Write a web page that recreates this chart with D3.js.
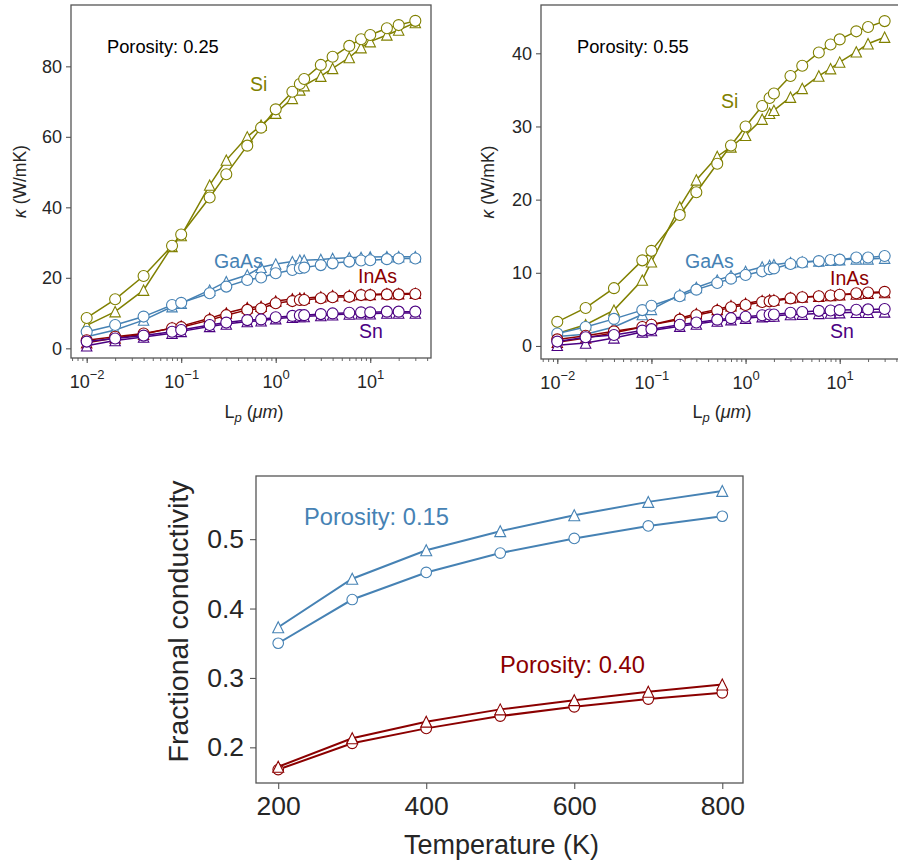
<!DOCTYPE html>
<html>
<head>
<meta charset="utf-8">
<script src="https://cdn.jsdelivr.net/npm/d3@7"></script>
<style>
  body { margin: 0; background: #fff; }
  svg { font-family: "Liberation Sans", Arial, sans-serif; }
</style>
</head>
<body>
<svg id="chart" width="898" height="863"></svg>
<script>
// ---- data ----
var Lp = [0.01, 0.02, 0.04, 0.08, 0.1, 0.2, 0.3, 0.5, 0.7, 1, 1.5, 1.8, 2, 3, 4, 6, 8, 10, 15, 20, 30];

// porosity 0.25
var si25_tri  = [6.5, 10.4, 16.5, 28.9, 32, 46.3, 53.4, 60, 63.3, 66.7, 70.9, 73.3, 74.5, 77.2, 79.4, 82.5, 85.3, 87, 88.9, 90.3, 92.4];
var si25_circ = [8.6, 13.9, 20.5, 29.1, 32.3, 42.8, 49.4, 57.5, 62.6, 67.8, 72.8, 75, 76.4, 80.4, 82.7, 85.8, 87.7, 88.9, 90.8, 91.7, 92.9];
var gaas25_tri  = [3.3, 5.2, 8, 11.8, 12.8, 16.5, 18.9, 20.8, 23, 23.9, 24.6, 25, 25, 25.2, 25.5, 25.7, 25.8, 25.9, 26, 26, 26];
var gaas25_circ = [4.7, 6.6, 9, 12.3, 12.9, 15.6, 17.5, 19.4, 20.1, 21.3, 22.2, 22.7, 22.9, 23.6, 24.1, 24.6, 24.9, 25, 25.3, 25.5, 25.5];
var inas25_tri  = [1.6, 2.9, 4, 5.8, 6.3, 8.5, 10, 11.5, 11.9, 13.4, 14, 14.2, 14.2, 14.6, 14.9, 15, 15.3, 15.3, 15.5, 15.5, 15.6];
var inas25_circ = [2.3, 3.3, 4.2, 5.7, 6, 8, 9.4, 10.9, 11.3, 12.8, 13.4, 13.7, 13.7, 14.2, 14.5, 14.6, 15.1, 15.1, 15.3, 15.3, 15.4];
var sn25_tri  = [0.7, 2.2, 3.2, 4.3, 4.8, 6.2, 6.9, 7.6, 7.8, 8.4, 8.8, 9, 9, 9.3, 9.5, 9.7, 9.8, 9.8, 10, 10, 10];
var sn25_circ = [1.9, 2.8, 3.6, 4.7, 5.2, 6.6, 7.3, 8, 8.2, 8.8, 9.2, 9.4, 9.4, 9.7, 9.9, 10.1, 10.2, 10.2, 10.4, 10.4, 10.4];

// porosity 0.55
var si55_tri  = [1.7, 2.9, 4.9, 9, 11.5, 19, 22.7, 25.9, 27.2, 28.8, 31, 31.8, 32.2, 34, 35.2, 36.9, 37.9, 38.8, 40.2, 41.3, 42.2];
var si55_circ = [3.3, 5.2, 7.9, 11.7, 13, 17.9, 21, 24.9, 27.4, 30, 32.8, 33.9, 34.5, 36.9, 38.3, 40.1, 41.2, 41.9, 43, 43.6, 44.4];
var gaas55_tri  = [1.3, 1.6, 2.6, 4.3, 5, 7, 8, 9, 9.6, 10.2, 10.8, 11, 11.1, 11.4, 11.5, 11.6, 11.7, 11.8, 11.9, 11.9, 12];
var gaas55_circ = [1.7, 2.6, 3.7, 4.9, 5.5, 6.8, 7.7, 8.6, 9.2, 9.7, 10.2, 10.5, 10.6, 11.2, 11.4, 11.6, 11.75, 11.8, 12.1, 12.1, 12.3];
var inas55_tri  = [0.5, 1.1, 1.8, 2.6, 2.9, 3.8, 4.4, 5, 5.5, 5.8, 6.2, 6.3, 6.3, 6.6, 6.7, 6.8, 6.9, 7, 7.1, 7.2, 7.3];
var inas55_circ = [0.9, 1.4, 2, 2.6, 2.9, 3.6, 4.2, 4.8, 5.3, 5.6, 6, 6.1, 6.15, 6.5, 6.65, 6.8, 6.9, 7, 7.2, 7.3, 7.4];
var sn55_tri  = [0.1, 0.4, 1.1, 1.9, 2.1, 2.7, 3, 3.4, 3.6, 3.8, 4, 4.05, 4.1, 4.3, 4.35, 4.45, 4.5, 4.55, 4.6, 4.6, 4.65];
var sn55_circ = [0.6, 1.2, 1.5, 2.1, 2.3, 2.9, 3.2, 3.6, 3.8, 4, 4.2, 4.3, 4.3, 4.55, 4.65, 4.8, 4.85, 4.9, 4.95, 5, 5.05];

// fractional conductivity vs temperature
var temps = [200, 300, 400, 500, 600, 700, 800];
var p15_tri  = [0.373, 0.443, 0.484, 0.5115, 0.5345, 0.5537, 0.5695];
var p15_circ = [0.350, 0.413, 0.452, 0.480, 0.501, 0.519, 0.533];
var p40_tri  = [0.172, 0.213, 0.237, 0.2547, 0.268, 0.280, 0.2906];
var p40_circ = [0.168, 0.2058, 0.2273, 0.245, 0.2584, 0.2695, 0.2786];

var OLIVE = "#808000", BLUE = "#4682b4", RED = "#8b0000", PURPLE = "#4b0082";
var TXT = "#262626", FRAME = "#555";

var svg = d3.select("#chart");

function triPath(s) {
    return "M0," + (-s) + "L" + s + "," + s + "L" + (-s) + "," + s + "Z";
}

function drawSeries(g, x, y, xs, ys, color, marker, lw, r) {
    var pts = xs.map(function(v, i) { return [v, ys[i]]; });
    g.append("path")
        .datum(pts)
        .attr("fill", "none")
        .attr("stroke", color)
        .attr("stroke-width", lw)
        .attr("d", d3.line().x(d => x(d[0])).y(d => y(d[1])));
    var m = g.append("g").selectAll("g").data(pts).enter();
    if (marker == "circle") {
        m.append("circle")
            .attr("cx", d => x(d[0]))
            .attr("cy", d => y(d[1]))
            .attr("r", r)
            .attr("fill", "#fff")
            .attr("stroke", color)
            .attr("stroke-width", 1.1);
    } else {
        m.append("path")
            .attr("d", triPath(r))
            .attr("transform", d => "translate(" + x(d[0]) + "," + y(d[1]) + ")")
            .attr("fill", "#fff")
            .attr("stroke", color)
            .attr("stroke-width", 1.1);
    }
}

function frame(g, x0, y0, x1, y1) {
    g.append("rect")
        .attr("x", x0).attr("y", y0)
        .attr("width", x1 - x0).attr("height", y1 - y0)
        .attr("fill", "none")
        .attr("stroke", FRAME)
        .attr("stroke-width", 1.3);
}

function styleAxis(ax, fs) {
    ax.select(".domain").remove();
    ax.selectAll(".tick line").attr("stroke", FRAME).attr("stroke-width", 1.1);
    ax.selectAll(".tick text").attr("fill", TXT).attr("font-size", fs);
}

// ---- top panels ----
function kappaPanel(opt) {
    var g = svg.append("g");
    var x = d3.scaleLog().domain(opt.xdom).range([opt.left, opt.right]);
    var y = d3.scaleLinear().domain(opt.ydom).range([opt.bottom, opt.top]);

    // y axis
    var ya = g.append("g")
        .attr("transform", "translate(" + opt.left + ",0)")
        .call(d3.axisLeft(y).tickValues(opt.yticks).tickSize(5).tickPadding(4).tickFormat(d3.format("d")));
    styleAxis(ya, 18);

    // x axis: minor ticks
    var minor = [];
    for (var e = -3; e <= 1; e++)
        for (var k = 1; k < 10; k++) {
            var v = k * Math.pow(10, e);
            if (v >= opt.xdom[0] && v <= opt.xdom[1]) minor.push(v);
        }
    var xm = g.append("g")
        .attr("transform", "translate(0," + opt.bottom + ")")
        .call(d3.axisBottom(x).tickValues(minor).tickSize(3).tickFormat(""));
    xm.select(".domain").remove();
    xm.selectAll(".tick line").attr("stroke", FRAME).attr("stroke-width", 0.9);

    var majors = [0.01, 0.1, 1, 10];
    var xa = g.append("g")
        .attr("transform", "translate(0," + opt.bottom + ")")
        .call(d3.axisBottom(x).tickValues(majors).tickSize(5).tickFormat(""));
    styleAxis(xa, 18);
    xa.selectAll(".tick").each(function(d) {
        var ex = Math.round(Math.log10(d));
        var t = d3.select(this).append("text")
            .attr("y", 30)
            .attr("fill", TXT)
            .attr("font-size", 18)
            .attr("text-anchor", "middle");
        t.append("tspan").text("10");
        t.append("tspan")
            .attr("font-size", 13)
            .attr("dy", -9)
            .text(ex < 0 ? "\u2212" + Math.abs(ex) : ex);
    });

    frame(g, opt.left, opt.top, opt.right, opt.bottom);

    // axis labels
    var yl = g.append("text")
        .attr("transform", "translate(" + opt.ylabX + "," + ((opt.top + opt.bottom) / 2) + ")rotate(-90)")
        .attr("text-anchor", "middle")
        .attr("fill", TXT)
        .attr("font-size", 17.5);
    yl.append("tspan").attr("font-style", "italic").text("\u03ba");
    yl.append("tspan").text(" (W/mK)");

    var xl = g.append("text")
        .attr("x", opt.xlabX)
        .attr("y", 418)
        .attr("text-anchor", "middle")
        .attr("fill", TXT)
        .attr("font-size", 18);
    xl.append("tspan").text("L");
    xl.append("tspan").attr("font-style", "italic").attr("font-size", 13).attr("dy", 4).text("p");
    xl.append("tspan").attr("dy", -4).text(" (");
    xl.append("tspan").attr("font-style", "italic").text("\u03bcm");
    xl.append("tspan").text(")");

    opt.series.forEach(function(s) {
        drawSeries(g, x, y, Lp, s.tri, s.color, "tri", 1.5, 5.2);
        drawSeries(g, x, y, Lp, s.circ, s.color, "circle", 1.5, 5.5);
    });

    g.append("text")
        .attr("x", opt.porX).attr("y", 53)
        .attr("fill", "#000")
        .attr("font-size", 18.3)
        .text(opt.porosity);

    opt.labels.forEach(function(l) {
        g.append("text")
            .attr("x", l.x).attr("y", l.y)
            .attr("fill", l.color)
            .attr("font-size", 19.5)
            .text(l.text);
    });
}

kappaPanel({
    left: 71, right: 431, top: 5, bottom: 358,
    xdom: [Math.pow(10, -2.166), Math.pow(10, 1.643)],
    ydom: [-2.75, 97.4],
    yticks: [0, 20, 40, 60, 80],
    ylabX: 26, xlabX: 254,
    porX: 107, porosity: "Porosity: 0.25",
    series: [
        { tri: si25_tri, circ: si25_circ, color: OLIVE },
        { tri: gaas25_tri, circ: gaas25_circ, color: BLUE },
        { tri: inas25_tri, circ: inas25_circ, color: RED },
        { tri: sn25_tri, circ: sn25_circ, color: PURPLE }
    ],
    labels: [
        { text: "Si", x: 250, y: 91, color: OLIVE },
        { text: "GaAs", x: 214, y: 268, color: BLUE },
        { text: "InAs", x: 358, y: 283, color: RED },
        { text: "Sn", x: 359, y: 338, color: PURPLE }
    ]
});

kappaPanel({
    left: 541, right: 901, top: 5, bottom: 359,
    xdom: [Math.pow(10, -2.173), Math.pow(10, 1.651)],
    ydom: [-1.78, 46.6],
    yticks: [0, 10, 20, 30, 40],
    ylabX: 494, xlabX: 722,
    porX: 577, porosity: "Porosity: 0.55",
    series: [
        { tri: si55_tri, circ: si55_circ, color: OLIVE },
        { tri: gaas55_tri, circ: gaas55_circ, color: BLUE },
        { tri: inas55_tri, circ: inas55_circ, color: RED },
        { tri: sn55_tri, circ: sn55_circ, color: PURPLE }
    ],
    labels: [
        { text: "Si", x: 721, y: 108, color: OLIVE },
        { text: "GaAs", x: 685, y: 268, color: BLUE },
        { text: "InAs", x: 830, y: 285, color: RED },
        { text: "Sn", x: 830, y: 338, color: PURPLE }
    ]
});

// ---- bottom panel ----
(function() {
    var left = 256, right = 743, top = 476, bottom = 783;
    var g = svg.append("g");
    var x = d3.scaleLinear().domain([170, 828]).range([left, right]);
    var y = d3.scaleLinear().domain([0.1486, 0.591]).range([bottom, top]);

    var ya = g.append("g")
        .attr("transform", "translate(" + left + ",0)")
        .call(d3.axisLeft(y).tickValues([0.2, 0.3, 0.4, 0.5]).tickSize(6).tickPadding(6).tickFormat(d3.format(".1f")));
    styleAxis(ya, 26.5);
    var xa = g.append("g")
        .attr("transform", "translate(0," + bottom + ")")
        .call(d3.axisBottom(x).tickValues([200, 400, 600, 800]).tickSize(6).tickPadding(5).tickFormat(d3.format("d")));
    styleAxis(xa, 26.5);
    xa.selectAll(".tick text").attr("dy", "0.8em");

    frame(g, left, top, right, bottom);

    g.append("text")
        .attr("transform", "translate(188," + ((top + bottom) / 2 - 8) + ")rotate(-90)")
        .attr("text-anchor", "middle")
        .attr("fill", TXT)
        .attr("font-size", 28.5)
        .text("Fractional conductivity");
    g.append("text")
        .attr("x", (left + right) / 2 + 2).attr("y", 854)
        .attr("text-anchor", "middle")
        .attr("fill", TXT)
        .attr("font-size", 27)
        .text("Temperature (K)");

    drawSeries(g, x, y, temps, p15_circ, BLUE, "circle", 2, 5.3);
    drawSeries(g, x, y, temps, p15_tri, BLUE, "tri", 2, 5.5);
    drawSeries(g, x, y, temps, p40_circ, RED, "circle", 2, 5.3);
    drawSeries(g, x, y, temps, p40_tri, RED, "tri", 2, 5.5);

    g.append("text")
        .attr("x", 304).attr("y", 525)
        .attr("fill", BLUE)
        .attr("font-size", 23.7)
        .text("Porosity: 0.15");
    g.append("text")
        .attr("x", 500).attr("y", 673)
        .attr("fill", RED)
        .attr("font-size", 23.7)
        .text("Porosity: 0.40");
})();
</script>
</body>
</html>
